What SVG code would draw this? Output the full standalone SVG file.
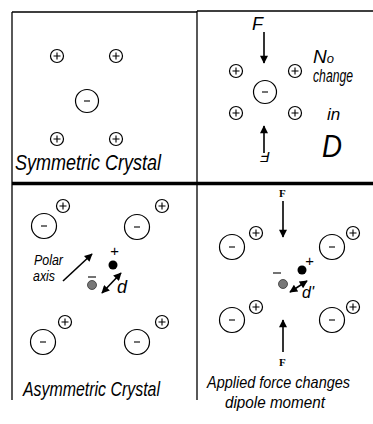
<svg xmlns="http://www.w3.org/2000/svg" width="373" height="424" viewBox="0 0 373 424">
<style>
.frame{stroke:#000;fill:none;stroke-width:1.3}
.thick{stroke:#000;stroke-width:3.5}
.ion{fill:#fff;stroke:#000;stroke-width:1.2}
.sign{stroke:#000;stroke-width:1.1;fill:none}
.conn{stroke:#000;stroke-width:1.6;fill:none}
.hand{font-family:"Liberation Sans",sans-serif;font-style:italic;fill:#000}
.print{font-family:"Liberation Serif",serif;font-weight:bold;fill:#000}
</style>
<defs>
<marker id="ah" viewBox="0 0 10 10" refX="9" refY="5" markerWidth="6" markerHeight="5" orient="auto-start-reverse">
<path d="M0,0 L10,5 L0,10 z" fill="#000"/>
</marker>
<g id="plus"><circle r="6.5" class="ion"/><path d="M-3.5,0H3.5M0,-3.5V3.5" class="sign"/></g>
<g id="minus-s"><circle r="11.5" class="ion"/><path d="M-3,0H3" class="sign"/></g>
<g id="minus-b"><circle r="12.5" class="ion"/><path d="M-3,0H3" class="sign"/></g>
</defs>
<rect width="373" height="424" fill="#fff"/>
<g id="frame">
<path d="M12,12H197M197,11H373M12,12V400M197,11V400" class="frame"/>
<path d="M12,183.5H373" class="thick"/>
</g>
<g id="sym">
<use href="#plus" x="57" y="56"/>
<use href="#plus" x="116" y="56"/>
<use href="#minus-s" x="87" y="101"/>
<use href="#plus" x="57" y="139"/>
<use href="#plus" x="116" y="139"/>
<text class="hand" x="15" y="170" font-size="22" textLength="146" lengthAdjust="spacingAndGlyphs">Symmetric Crystal</text>
</g>
<g id="sym-force">
<use href="#plus" x="236" y="71"/>
<use href="#plus" x="295" y="71"/>
<use href="#minus-s" x="265" y="92"/>
<use href="#plus" x="236" y="113"/>
<use href="#plus" x="295" y="113"/>
<text class="hand" x="252" y="30" font-size="18">F</text>
<text class="hand" x="0" y="0" font-size="15" transform="translate(270,152) rotate(180)">F</text>
<text class="hand" x="313" y="63" font-size="19">N<tspan font-size="13">o</tspan></text>
<text class="hand" x="313" y="82" font-size="18" textLength="40" lengthAdjust="spacingAndGlyphs">change</text>
<text class="hand" x="327" y="120" font-size="17">in</text>
<text class="hand" x="322" y="157" font-size="32" textLength="20" lengthAdjust="spacingAndGlyphs">D</text>
</g>
<g id="asym">
<use href="#plus" x="63" y="206"/>
<use href="#minus-b" x="44" y="226"/>
<use href="#plus" x="162" y="206"/>
<use href="#minus-b" x="137" y="227"/>
<use href="#plus" x="65" y="322"/>
<use href="#minus-b" x="43" y="342"/>
<use href="#plus" x="162" y="322"/>
<use href="#minus-b" x="137" y="342"/>
<circle cx="113" cy="265" r="4.5" fill="#000"/>
<circle cx="92" cy="285" r="4.5" fill="#777" stroke="#333" stroke-width="0.8"/>
<text class="hand" x="110" y="256" font-size="15">+</text>
<path d="M88,277H96" class="sign"/>
<text class="hand" x="34" y="265" font-size="14" textLength="29" lengthAdjust="spacingAndGlyphs">Polar</text>
<text class="hand" x="33" y="281" font-size="14" textLength="22" lengthAdjust="spacingAndGlyphs">axis</text>
<text class="hand" x="117" y="293" font-size="18">d</text>
<text class="hand" x="23" y="396" font-size="21" textLength="137" lengthAdjust="spacingAndGlyphs">Asymmetric Crystal</text>
</g>
<g id="asym-force">
<use href="#plus" x="256" y="233"/>
<use href="#minus-b" x="232" y="247"/>
<use href="#plus" x="353" y="233"/>
<use href="#minus-b" x="332" y="247"/>
<use href="#plus" x="256" y="307"/>
<use href="#minus-b" x="232" y="320"/>
<use href="#plus" x="353" y="307"/>
<use href="#minus-b" x="332" y="320"/>
<circle cx="302" cy="270" r="4.5" fill="#000"/>
<circle cx="283" cy="284" r="4.5" fill="#777" stroke="#333" stroke-width="0.8"/>
<text class="hand" x="305" y="266" font-size="15">+</text>
<path d="M273,273H281" class="sign"/>
<text class="hand" x="302" y="298" font-size="16">d'</text>
<text class="print" x="279" y="197" font-size="11">F</text>
<text class="print" x="279" y="366" font-size="11">F</text>
<text class="hand" x="207" y="388" font-size="17" textLength="143" lengthAdjust="spacingAndGlyphs">Applied force changes</text>
<text class="hand" x="225" y="408" font-size="17" textLength="100" lengthAdjust="spacingAndGlyphs">dipole moment</text>
</g>
<g id="connectors">
<path d="M264,32V63" class="conn" marker-end="url(#ah)"/>
<path d="M264,153V126" class="conn" marker-end="url(#ah)"/>
<path d="M63,281L92,254" class="conn" marker-end="url(#ah)"/>
<path d="M102,293L121,273" class="conn" marker-start="url(#ah)" marker-end="url(#ah)"/>
<path d="M283,201V237" class="conn" marker-end="url(#ah)"/>
<path d="M283,352V320" class="conn" marker-end="url(#ah)"/>
<path d="M290,292L307,281" class="conn" marker-start="url(#ah)" marker-end="url(#ah)"/>
</g>
</svg>
